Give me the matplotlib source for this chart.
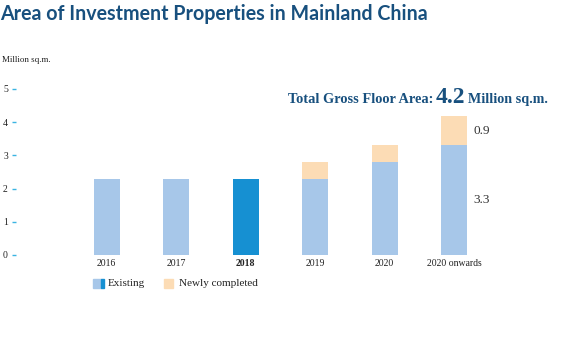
import matplotlib.pyplot as plt
from matplotlib.patches import Rectangle

# data
years = ["2016", "2017", "2018", "2019", "2020", "2020 onwards"]
existing = [2.3, 2.3, 2.3, 2.3, 2.8, 3.3]
newly = [0, 0, 0, 0.5, 0.5, 0.9]
yticks = [0, 1, 2, 3, 4, 5]

light_blue = "#a7c7e9"
dark_blue = "#1690d2"
orange = "#fcdcb5"
navy = "#18507e"
serif = ["Liberation Serif", "DejaVu Serif"]

fig = plt.figure(figsize=(5.62, 3.53), dpi=100)
W, H = 562, 353

# axes: left edge at x=12px, y=0 at 255px, y=5 at 89px
ax = fig.add_axes([12 / W, (H - 255) / H, 550 / W, 166 / H])
xs = list(range(len(years)))
bar_colors = [dark_blue if y == "2018" else light_blue for y in years]
ax.bar(xs, existing, width=0.375, color=bar_colors)
ax.bar(xs, newly, width=0.375, bottom=existing, color=orange)
ax.set_xlim(-1.36, 6.55)
ax.set_ylim(0, 5)
for s in ax.spines.values():
    s.set_visible(False)
ax.set_yticks(yticks)
ax.set_yticklabels([str(t) for t in yticks], fontsize=7, family=serif, color="#222222")
ax.tick_params(axis="y", direction="in", length=3, width=1, color="#3ab4e2", pad=3)
ax.set_xticks(xs)
ax.set_xticklabels(years, fontsize=7, family=serif, color="#222222")
ax.tick_params(axis="x", length=0, pad=3)
ax.get_xticklabels()[2].set_fontweight("bold")

# value labels for last bar
last = len(years) - 1
ax.text(last + 0.28, 3.73, "0.9", fontsize=9.5, family=serif, color="#333333", va="center")
ax.text(last + 0.28, 1.67, "3.3", fontsize=9.5, family=serif, color="#333333", va="center")

# title and units
fig.text(0 / W, 1 - 14 / H, "Area of Investment Properties in Mainland China",
         fontsize=14.1, fontweight="bold", family="Lato", color=navy, va="center")
fig.text(2 / W, 1 - 60 / H, "Million sq.m.", fontsize=6.5, family=serif,
         color="#222222", va="center")

# total annotation, pieces placed one after another
fig.canvas.draw()
r = fig.canvas.get_renderer()
ty = 1 - 103 / H
x = 288 / W
for txt, size in [("Total Gross Floor Area:", 10.4), ("4.2", 17), ("Million sq.m.", 10.2)]:
    t = fig.text(x, ty, txt, fontsize=size, fontweight="bold", family=serif,
                 color=navy, va="baseline")
    x += (t.get_window_extent(r).width + 2.5) / W

# legend
ly = 1 - 288 / H
fig.add_artist(Rectangle((93 / W, ly), 7.5 / W, 9 / H, color=light_blue, transform=fig.transFigure))
fig.add_artist(Rectangle((100.5 / W, ly), 3 / W, 9 / H, color=dark_blue, transform=fig.transFigure))
fig.text(108 / W, ly + 4.5 / H, "Existing", fontsize=8, family=serif, color="#222222", va="center")
fig.add_artist(Rectangle((164 / W, ly), 9 / W, 9 / H, color=orange, transform=fig.transFigure))
fig.text(179 / W, ly + 4.5 / H, "Newly completed", fontsize=8, family=serif, color="#222222", va="center")

fig.savefig("out.png", dpi=100)
